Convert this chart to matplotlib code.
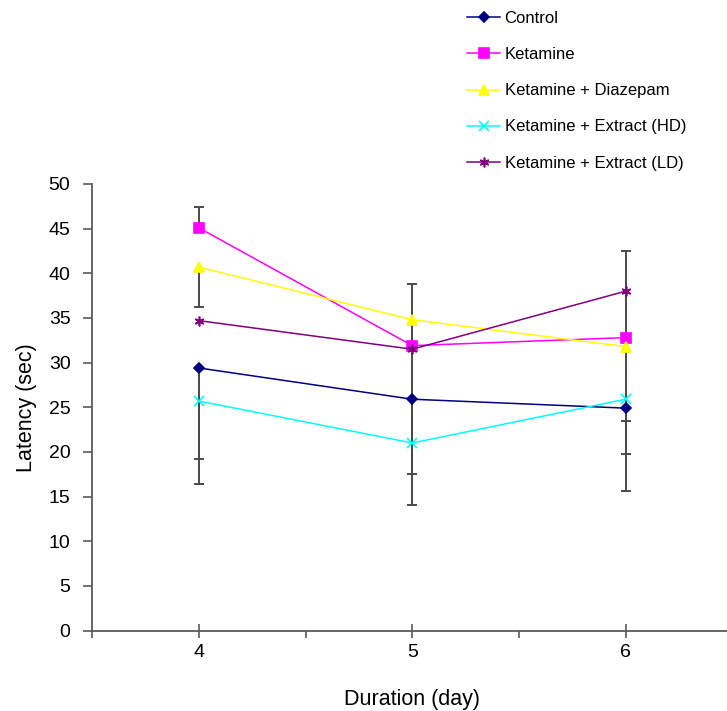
import numpy as np
import matplotlib
matplotlib.use("Agg")
import matplotlib.pyplot as plt

plt.rcParams['font.family'] = ['Liberation Sans', 'DejaVu Sans']

# data
days = [4, 5, 6]
series_names = ['Control', 'Ketamine', 'Ketamine + Diazepam',
                'Ketamine + Extract (HD)', 'Ketamine + Extract (LD)']
control = [29.4, 25.9, 24.9]
ketamine = [45.1, 31.9, 32.8]
diazepam = [40.7, 34.8, 31.8]
extract_hd = [25.7, 21.0, 25.9]
extract_ld = [34.7, 31.5, 38.0]

# one-sided error bars (lower, upper); nan = not drawn
control_err = [[13.0, 11.9, 9.3], [np.nan, np.nan, np.nan]]
ketamine_err = [[np.nan, np.nan, np.nan], [2.3, 6.9, 9.7]]
diazepam_err = [[4.5, 17.3, 12.0], [np.nan, np.nan, np.nan]]
hd_err = [[6.5, np.nan, 2.4], [np.nan, np.nan, np.nan]]
ld_err = [[np.nan, np.nan, np.nan], [np.nan, np.nan, np.nan]]

values = [control, ketamine, diazepam, extract_hd, extract_ld]
errors = [control_err, ketamine_err, diazepam_err, hd_err, ld_err]
colors = ['#000080', '#FF00FF', '#FFFF00', '#00FFFF', '#800080']
markers = ['D', 's', '^', 'x', (6, 2, 0)]
msizes = [5.5, 6.5, 6.5, 6.5, 7.0]

fig = plt.figure(figsize=(7.27, 7.11), dpi=100)
ax = fig.add_axes([92 / 727, 80.5 / 711, 640.5 / 727, 446.5 / 711])

axis_grey = '#5a5a5a'
err_grey = '#4a4a4a'
x = np.array(days, dtype=float)
for vals, err, c, m, ms, name in zip(values, errors, colors, markers, msizes, series_names):
    v = np.array(vals)
    lower = np.array(err[0])
    upper = np.array(err[1])
    lo = v - lower
    hi = v + upper
    # bar stems: only the sides that exist
    ax.vlines(x, np.where(np.isnan(lo), v, lo), np.where(np.isnan(hi), v, hi),
              colors=err_grey, linewidth=1.4, zorder=3)
    ax.plot(x, lo, ls='none', marker='_', markersize=7, markeredgewidth=1.4,
            color=err_grey, zorder=3)
    ax.plot(x, hi, ls='none', marker='_', markersize=7, markeredgewidth=1.4,
            color=err_grey, zorder=3)
    ax.plot(days, vals, color=c, lw=1.1, marker=m, markersize=ms,
            markerfacecolor=c, markeredgecolor=c, markeredgewidth=1.2,
            label=name, zorder=4)

ax.set_xlim(3.5, 6.5)
ax.set_ylim(0, 50)
ax.set_yticks(np.arange(0, 51, 5))
ax.set_xticks(days)
ax.set_xticks([3.5, 4.5, 5.5], minor=True)

for s in ['top', 'right']:
    ax.spines[s].set_visible(False)
for s in ['left', 'bottom']:
    ax.spines[s].set_color(axis_grey)
    ax.spines[s].set_linewidth(1.3)

ax.tick_params(axis='y', direction='out', length=6.5, width=1.2, color=axis_grey,
               labelsize=14, pad=9)
ax.tick_params(axis='x', which='major', direction='inout', length=10, width=1.2,
               color=axis_grey, labelsize=14, pad=5)
ax.tick_params(axis='x', which='minor', direction='out', length=5, width=1.2,
               color=axis_grey)

ax.set_xlabel('Duration (day)', fontsize=15.5, labelpad=20)
ax.set_ylabel('Latency (sec)', fontsize=15.5, labelpad=8)

fig.legend(loc='upper left', bbox_to_anchor=(467 / 727, 1 - 11 / 711),
           frameon=False, fontsize=12, handlelength=2.0, handletextpad=0.25,
           labelspacing=1.27, borderpad=0, borderaxespad=0)

fig.savefig('out.png', dpi=100)
